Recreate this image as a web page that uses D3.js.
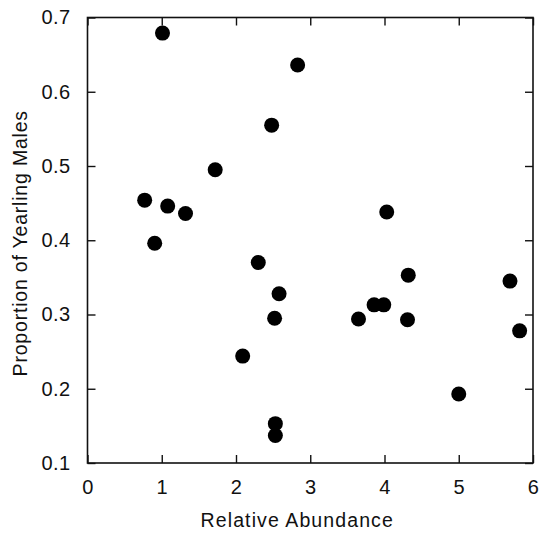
<!DOCTYPE html>
<html>
<head>
<meta charset="utf-8">
<script src="https://cdn.jsdelivr.net/npm/d3@7"></script>
<style>
  body { margin: 0; background: #fff; }
  svg { display: block; }
</style>
</head>
<body>
<svg id="chart" width="539" height="533"></svg>
<script>
// Relative abundance vs proportion of yearling males
const abundance = [1.01, 2.83, 2.48, 1.72, 0.77, 1.08, 1.32, 0.905, 4.03, 2.30, 4.32, 5.69,
  2.58, 2.52, 3.65, 3.86, 3.99, 4.31, 5.82, 2.09, 5.00, 2.53, 2.53];
const yearlingMales = [0.679, 0.636, 0.555, 0.495, 0.454, 0.446, 0.436, 0.396, 0.438, 0.370, 0.353, 0.345,
  0.328, 0.295, 0.294, 0.313, 0.313, 0.293, 0.278, 0.244, 0.193, 0.153, 0.137];
const xTicks = [0, 1, 2, 3, 4, 5, 6];
const yTicks = [0.1, 0.2, 0.3, 0.4, 0.5, 0.6, 0.7];

const svg = d3.select("#chart"),
  width = +svg.attr("width"),
  height = +svg.attr("height"),
  margin = { top: 17.5, right: 6, bottom: 70, left: 87.5 };

const chartWidth = width - margin.left - margin.right;
const chartHeight = height - margin.top - margin.bottom;

const g = svg
  .append("g")
  .attr("transform", `translate(${margin.left},${margin.top})`);

const x = d3.scaleLinear().domain([0, 6]).range([0, chartWidth]);
const y = d3.scaleLinear().domain([0.1, 0.7]).range([chartHeight, 0]);

const font = "'Liberation Sans', Arial, Helvetica, sans-serif";

function styleAxis(sel) {
  sel.select(".domain").remove();
  sel.selectAll(".tick line").attr("stroke", "#111").attr("stroke-width", 1.4);
  sel.selectAll(".tick text")
    .attr("fill", "#111")
    .style("font-family", font)
    .style("font-size", "20px")
    .style("letter-spacing", "0.4px");
}

// Bottom axis with labels
g.append("g")
  .attr("transform", `translate(0,${chartHeight})`)
  .call(d3.axisBottom(x).tickValues(xTicks).tickFormat(d3.format("d")).tickSizeInner(-8).tickSizeOuter(0).tickPadding(17))
  .call(styleAxis);

// Left axis with labels
g.append("g")
  .call(d3.axisLeft(y).tickValues(yTicks).tickFormat(d3.format(".1f")).tickSizeInner(-8).tickSizeOuter(0).tickPadding(17))
  .call(styleAxis);

// Top and right ticks, no labels
g.append("g")
  .call(d3.axisTop(x).tickValues(xTicks).tickFormat("").tickSizeInner(-8).tickSizeOuter(0))
  .call(styleAxis);

g.append("g")
  .attr("transform", `translate(${chartWidth},0)`)
  .call(d3.axisRight(y).tickValues(yTicks).tickFormat("").tickSizeInner(-8).tickSizeOuter(0))
  .call(styleAxis);

// Frame
g.append("rect")
  .attr("x", 0)
  .attr("y", 0)
  .attr("width", chartWidth)
  .attr("height", chartHeight)
  .attr("fill", "none")
  .attr("stroke", "#111")
  .attr("stroke-width", 1.6);

// Dots
g.selectAll(".dot")
  .data(abundance.map((a, i) => ({ a, p: yearlingMales[i] })))
  .join("circle")
  .attr("class", "dot")
  .attr("cx", (d) => x(d.a))
  .attr("cy", (d) => y(d.p))
  .attr("r", 7.5)
  .attr("fill", "#000");

// Axis titles
svg.append("text")
  .attr("x", margin.left + x(3) - 13)
  .attr("y", 527)
  .attr("text-anchor", "middle")
  .style("font-family", font)
  .style("font-size", "19.5px")
  .style("letter-spacing", "1.1px")
  .attr("fill", "#111")
  .text("Relative Abundance");

svg.append("text")
  .attr("transform", `translate(27,${margin.top + chartHeight / 2 + 3}) rotate(-90)`)
  .attr("text-anchor", "middle")
  .style("font-family", font)
  .style("font-size", "19.5px")
  .style("letter-spacing", "0.8px")
  .attr("fill", "#111")
  .text("Proportion of Yearling Males");
</script>
</body>
</html>
